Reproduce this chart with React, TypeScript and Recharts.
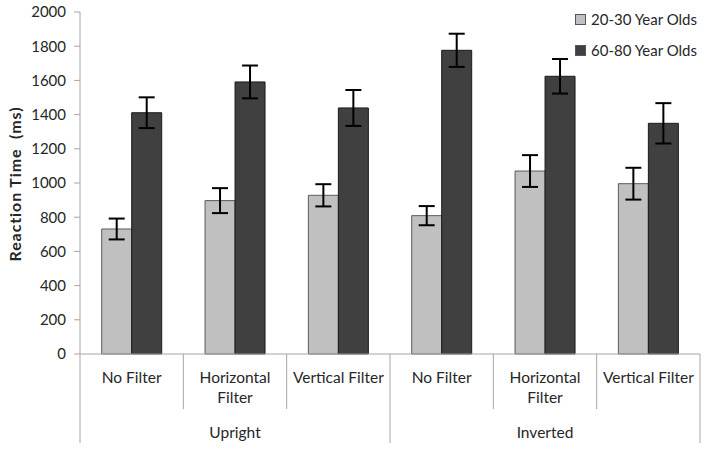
import React from "react";
import { BarChart, Bar, XAxis, YAxis, ErrorBar, Legend } from "recharts";

const categories = [
  "No Filter",
  "Horizontal\nFilter",
  "Vertical Filter",
  "No Filter",
  "Horizontal\nFilter",
  "Vertical Filter",
];
const groups = ["Upright", "Inverted"];
const youngValues = [731, 897, 928, 809, 1070, 996];
const youngErrors = [61, 73, 65, 56, 93, 93];
const oldValues = [1411, 1591, 1439, 1776, 1624, 1349];
const oldErrors = [90, 96, 105, 97, 101, 118];
const yTicks = [0, 200, 400, 600, 800, 1000, 1200, 1400, 1600, 1800, 2000];
const seriesNames = ["20-30 Year Olds", "60-80 Year Olds"];

const data = categories.map((c, i) => ({
  key: "c" + i,
  label: c,
  group: groups[Math.floor(i / 3)],
  young: youngValues[i],
  youngErr: youngErrors[i],
  old: oldValues[i],
  oldErr: oldErrors[i],
}));

const FONT = "Lato, 'DejaVu Sans', sans-serif";
const TEXT = "#262626";
const AXIS = "#A6A6A6";
const LIGHT = "#C0C0C0";
const DARK = "#404040";

const CategoryTick = (props: any) => {
  const { x, y, payload } = props;
  const idx: number = payload.index;
  const half: number = payload.offset ?? 0;
  const d = data[idx];
  const lines = d.label.split("\n");
  const isGroupStart = idx % 3 === 0;
  const isLast = idx === data.length - 1;
  return (
    <g>
      <line
        x1={x - half}
        x2={x - half}
        y1={y}
        y2={y + (isGroupStart ? 89 : 55)}
        stroke={AXIS}
        strokeWidth={1}
      />
      {isLast && (
        <line x1={x + half} x2={x + half} y1={y} y2={y + 89} stroke={AXIS} strokeWidth={1} />
      )}
      {lines.map((ln: string, k: number) => (
        <text
          key={k}
          x={x}
          y={y + 23 + k * 20}
          textAnchor="middle"
          dominantBaseline="central"
          fontFamily={FONT}
          fontSize={15.5}
          fill={TEXT}
        >
          {ln}
        </text>
      ))}
      {idx % 3 === 1 && (
        <text
          x={x}
          y={y + 78}
          textAnchor="middle"
          dominantBaseline="central"
          fontFamily={FONT}
          fontSize={15.5}
          fill={TEXT}
        >
          {d.group}
        </text>
      )}
    </g>
  );
};

const LegendContent = () => (
  <div style={{ fontFamily: FONT, fontSize: 15, color: TEXT, lineHeight: "20px" }}>
    {seriesNames.map((n, i) => (
      <div key={n} style={{ display: "flex", alignItems: "center", marginBottom: i === 0 ? 11 : 0 }}>
        <span
          style={{
            display: "inline-block",
            width: 9,
            height: 9,
            background: i === 0 ? LIGHT : DARK,
            border: "1px solid #555",
            marginRight: 5,
          }}
        />
        <span>{n}</span>
      </div>
    ))}
  </div>
);

export default function App() {
  return (
    <div style={{ position: "absolute", left: 0, top: 0, width: 707, height: 450, background: "#fff" }}>
      <BarChart
        width={707}
        height={450}
        data={data}
        margin={{ top: 12, right: 7, bottom: 0, left: 0 }}
        barCategoryGap="21%"
        barGap={0}
      >
        <YAxis
          width={80}
          domain={[0, 2000]}
          ticks={yTicks}
          interval={0}
          axisLine={{ stroke: AXIS }}
          tickLine={{ stroke: AXIS }}
          tickSize={6}
          tickMargin={8}
          tick={{ fontFamily: FONT, fontSize: 15, fill: TEXT }}
          label={{
            content: () => (
              <text
                x={14}
                y={184}
                transform="rotate(-90, 14, 184)"
                textAnchor="middle"
                dominantBaseline="central"
                fontFamily={FONT}
                fontSize={16}
                fontWeight="bold"
                letterSpacing={0.9}
                fill={TEXT}
              >
                {"Reaction Time\u00a0\u00a0(ms)"}
              </text>
            ),
          }}
        />
        <XAxis
          dataKey="key"
          height={96}
          interval={0}
          tickLine={false}
          tickSize={0}
          tickMargin={0}
          axisLine={{ stroke: AXIS }}
          tick={<CategoryTick />}
        />
        <Legend
          layout="vertical"
          align="center"
          verticalAlign="middle"
          content={<LegendContent />}
          wrapperStyle={{ position: "absolute", top: 9, left: 575, width: 130, height: 60 }}
        />
        <Bar dataKey="young" name={seriesNames[0]} fill={LIGHT} stroke="#5a5a5a" strokeWidth={1} isAnimationActive={false}>
          <ErrorBar dataKey="youngErr" width={8} stroke="#000" strokeWidth={2} />
        </Bar>
        <Bar dataKey="old" name={seriesNames[1]} fill={DARK} stroke="#1a1a1a" strokeWidth={1} isAnimationActive={false}>
          <ErrorBar dataKey="oldErr" width={8} stroke="#000" strokeWidth={2} />
        </Bar>
      </BarChart>
    </div>
  );
}
